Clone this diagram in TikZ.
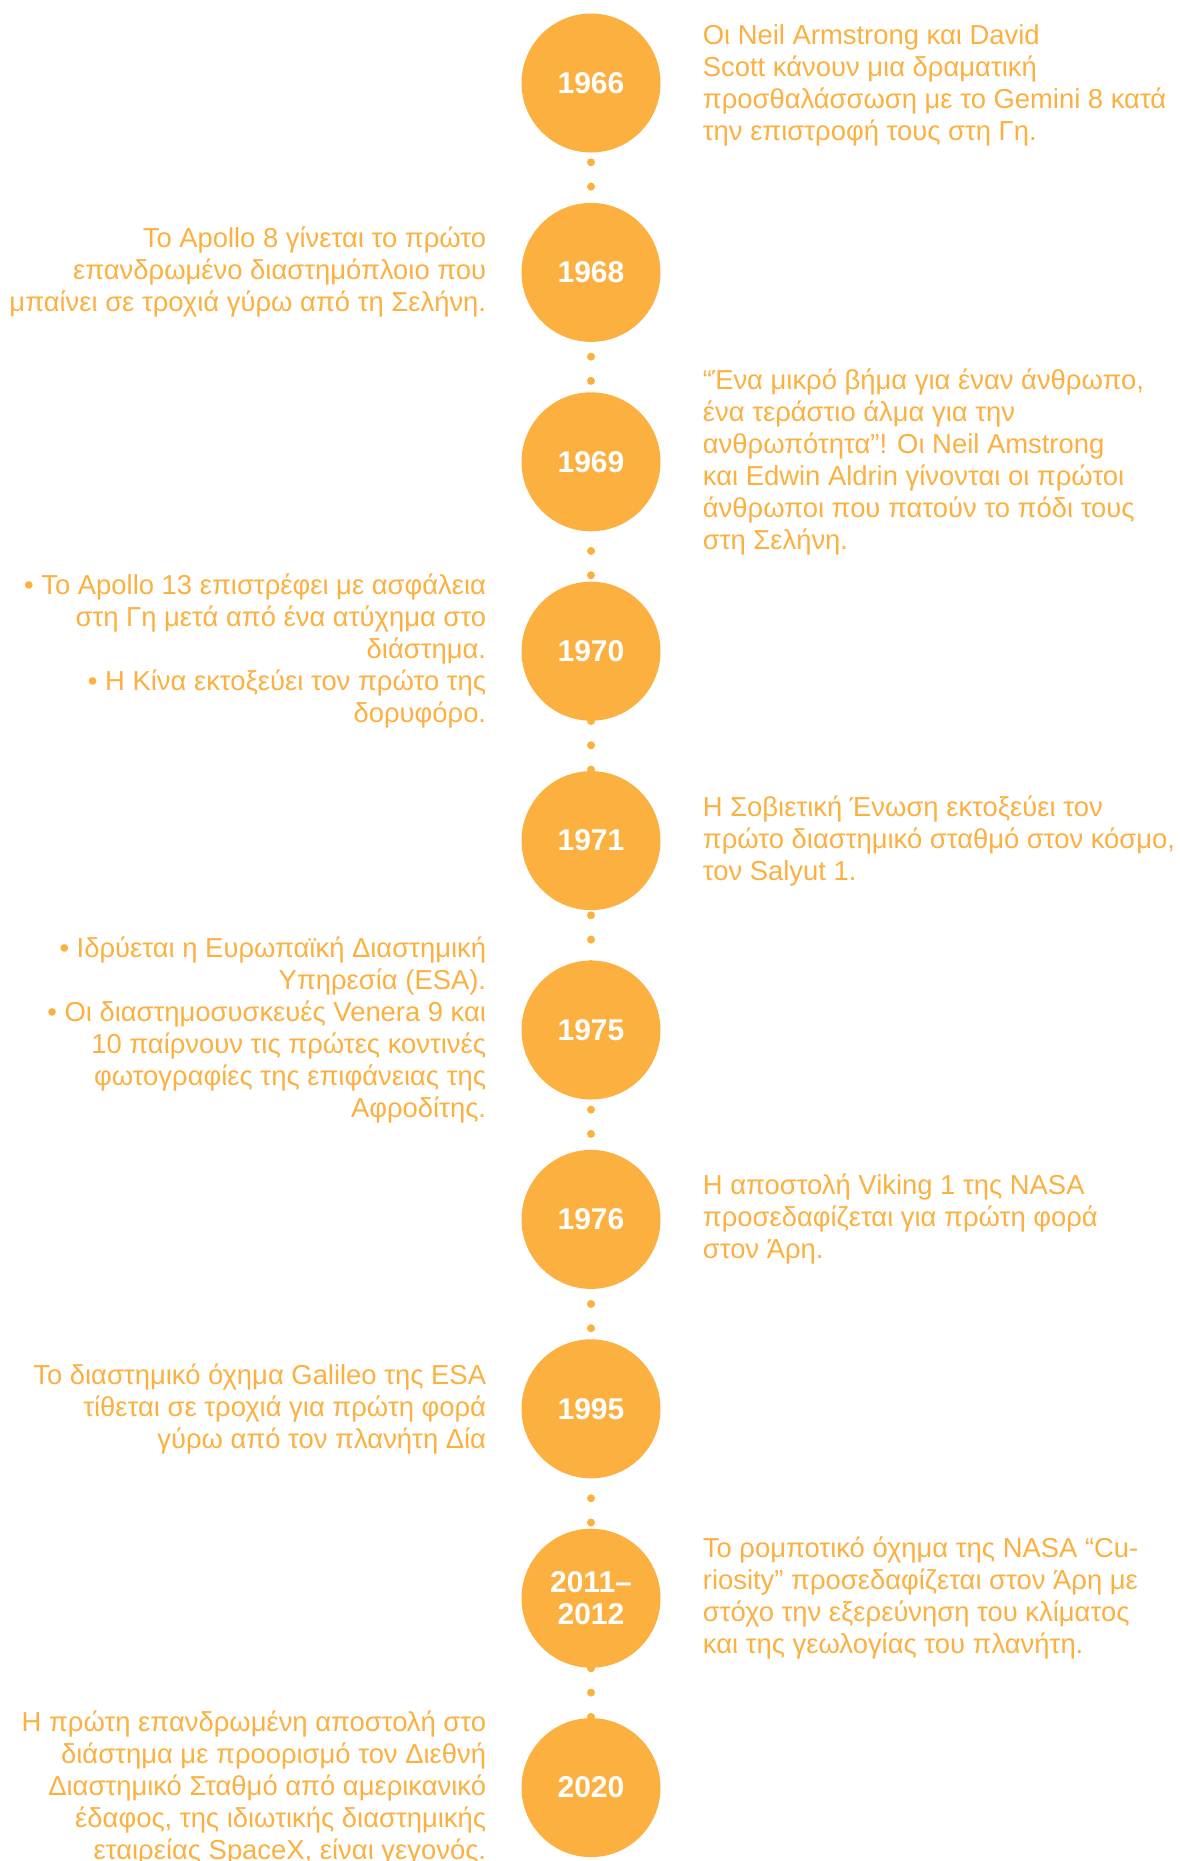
\documentclass[tikz,border=0pt]{standalone}
\usepackage{fontspec}
\setmainfont{Liberation Sans}
\usepackage{xcolor}
\usetikzlibrary{positioning, backgrounds}
\definecolor{spaceorange}{RGB}{251, 176, 64}

\begin{document}
\begin{tikzpicture}[
  x=1pt, y=1pt,
  font=\fontsize{27.4}{32}\selectfont,
  node distance=50pt,
  year/.style={circle, fill=spaceorange, minimum size=139pt, inner sep=0pt,
               text=white, align=center,
               font=\fontsize{30}{32}\selectfont\bfseries},
  event/.style={text=spaceorange, inner sep=0pt},
  dotline/.style={line width=8pt, line cap=round, color=spaceorange,
                  dash pattern=on 0pt off 24.29pt, dash phase=17.86pt},
]
\useasboundingbox (0,0) rectangle (1180,-1861);

% Years
\node[year] (y1966) at (591,-83) {1966};
\node[year, below=of y1966] (y1968) {1968};
\node[year, below=of y1968] (y1969) {1969};
\node[year, below=of y1969] (y1970) {1970};
\node[year, below=of y1970] (y1971) {1971};
\node[year, below=of y1971] (y1975) {1975};
\node[year, below=of y1975] (y1976) {1976};
\node[year, below=of y1976] (y1995) {1995};
\node[year, below=of y1995] (y2011) {2011–\\2012};
\node[year, below=of y2011] (y2020) {2020};

% Dotted time line behind the years
\begin{pgfonlayer}{background}
  \draw[dotline] (y1966.center) -- (y2020.center);
\end{pgfonlayer}

% Events
\node[event, align=left, right=42pt of y1966, yshift=-2pt] (e1966) {
  Οι Neil Armstrong και David\\
  Scott κάνουν μια δραματική\\
  προσθαλάσσωση με το Gemini 8 κατά\\
  την επιστροφή τους στη Γη.
};

\node[event, align=right, left=35pt of y1968] (e1968) {
  Το Apollo 8 γίνεται το πρώτο\\
  επανδρωμένο διαστημόπλοιο που\\
  μπαίνει σε τροχιά γύρω από τη Σελήνη.
};

\node[event, align=left, right=42pt of y1969] (e1969) {
  “Ένα μικρό βήμα για έναν άνθρωπο,\\
  ένα τεράστιο άλμα για την\\
  ανθρωπότητα”! Οι Neil Amstrong\\
  και Edwin Aldrin γίνονται οι πρώτοι\\
  άνθρωποι που πατούν το πόδι τους\\
  στη Σελήνη.
};

\node[event, align=right, left=35pt of y1970] (e1970) {
  • Το Apollo 13 επιστρέφει με ασφάλεια\\
  στη Γη μετά από ένα ατύχημα στο\\
  διάστημα.\\
  • Η Κίνα εκτοξεύει τον πρώτο της\\
  δορυφόρο.
};

\node[event, align=left, right=42pt of y1971] (e1971) {
  Η Σοβιετική Ένωση εκτοξεύει τον\\
  πρώτο διαστημικό σταθμό στον κόσμο,\\
  τον Salyut 1.
};

\node[event, align=right, left=35pt of y1975] (e1975) {
  • Ιδρύεται η Ευρωπαϊκή Διαστημική\\
  Υπηρεσία (ESA).\\
  • Οι διαστημοσυσκευές Venera 9 και\\
  10 παίρνουν τις πρώτες κοντινές\\
  φωτογραφίες της επιφάνειας της\\
  Αφροδίτης.
};

\node[event, align=left, right=42pt of y1976] (e1976) {
  Η αποστολή Viking 1 της NASA\\
  προσεδαφίζεται για πρώτη φορά\\
  στον Άρη.
};

\node[event, align=right, left=35pt of y1995] (e1995) {
  Το διαστημικό όχημα Galileo της ESA\\
  τίθεται σε τροχιά για πρώτη φορά\\
  γύρω από τον πλανήτη Δία
};

\node[event, align=left, right=42pt of y2011] (e2011) {
  Το ρομποτικό όχημα της NASA “Cu-\\
  riosity” προσεδαφίζεται στον Άρη με\\
  στόχο την εξερεύνηση του κλίματος\\
  και της γεωλογίας του πλανήτη.
};

\node[event, align=right, left=35pt of y2020] (e2020) {
  Η πρώτη επανδρωμένη αποστολή στο\\
  διάστημα με προορισμό τον Διεθνή\\
  Διαστημικό Σταθμό από αμερικανικό\\
  έδαφος, της ιδιωτικής διαστημικής\\
  εταιρείας SpaceX, είναι γεγονός.
};

\end{tikzpicture}
\end{document}
